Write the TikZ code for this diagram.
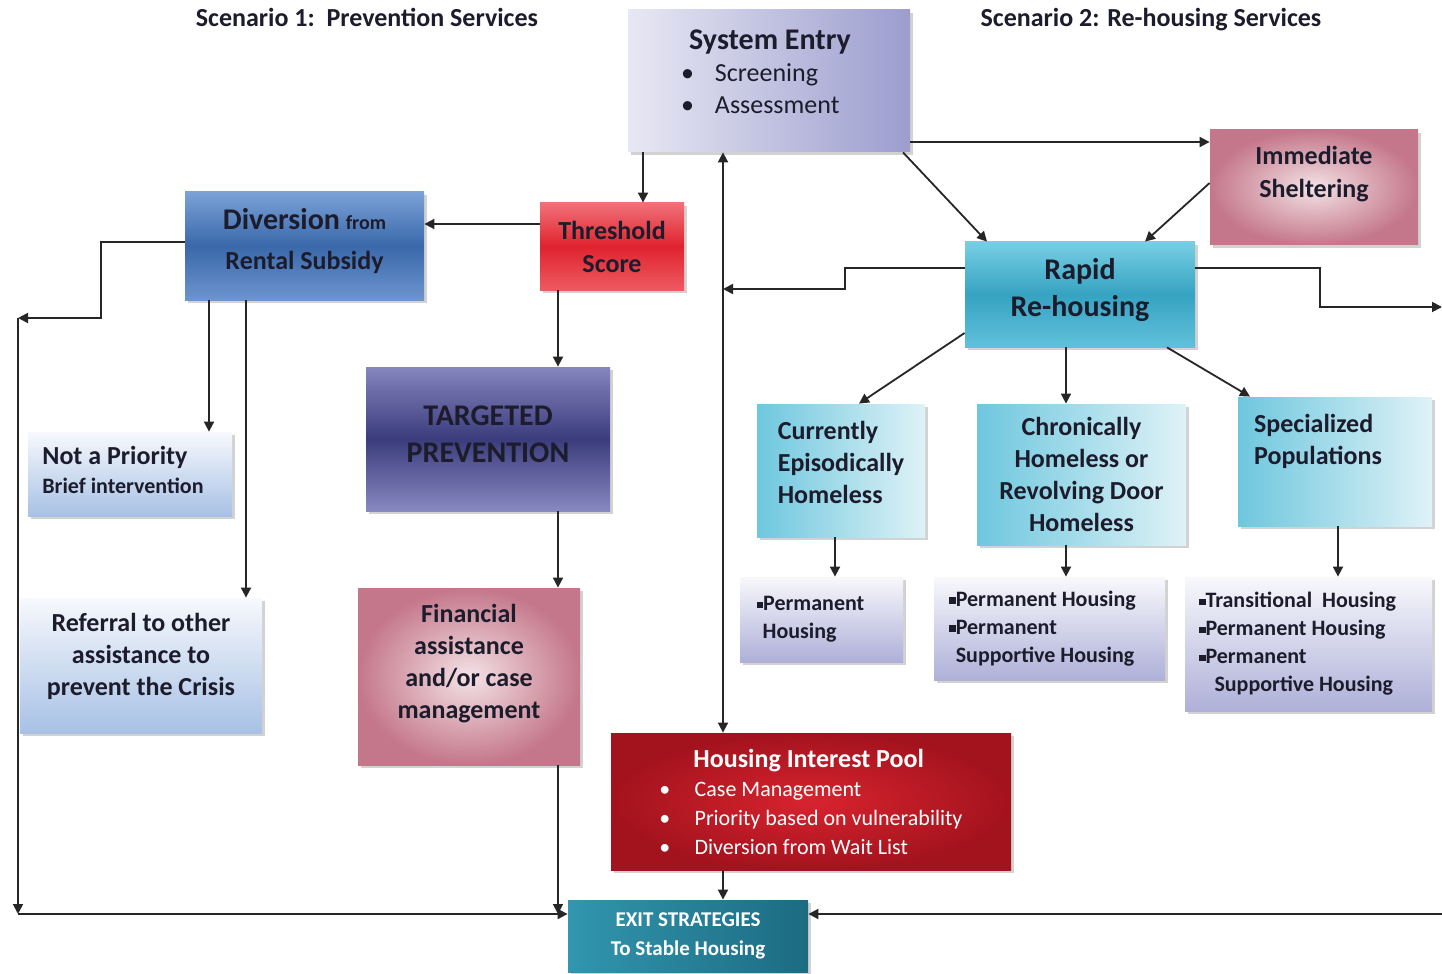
\documentclass[tikz,border=0pt]{standalone}
\usepackage{fontspec}
\setmainfont{Carlito}
\usetikzlibrary{arrows.meta,shadows}
\definecolor{txt}{HTML}{1C1C2C}
\definecolor{sysL}{HTML}{E8E8F4}
\definecolor{sysR}{HTML}{9C9DCE}
\definecolor{divT}{HTML}{7BA2D8}
\definecolor{divM}{HTML}{3A68AA}
\definecolor{divB}{HTML}{6D95CF}
\definecolor{thrT}{HTML}{F07178}
\definecolor{thrM}{HTML}{E0232E}
\definecolor{thrB}{HTML}{EE5A62}
\definecolor{tgtT}{HTML}{8586BE}
\definecolor{tgtM}{HTML}{3B3C7C}
\definecolor{tgtB}{HTML}{8889C0}
\definecolor{lbT}{HTML}{F7F9FD}
\definecolor{lbB}{HTML}{A7C1E5}
\definecolor{pinkIn}{HTML}{F4E2E6}
\definecolor{pinkOut}{HTML}{C4778A}
\definecolor{poolIn}{HTML}{D8232F}
\definecolor{poolOut}{HTML}{A3131D}
\definecolor{exitL}{HTML}{3196AE}
\definecolor{exitR}{HTML}{1C6B82}
\definecolor{rapT}{HTML}{78CFE4}
\definecolor{rapM}{HTML}{36A3C2}
\definecolor{rapB}{HTML}{60C1DB}
\definecolor{cyL}{HTML}{6EC7DE}
\definecolor{cyR}{HTML}{DFF2F7}
\definecolor{phT}{HTML}{F8F8FC}
\definecolor{phB}{HTML}{AEB0D8}
\newcommand{\lift}[1]{\rule[-#1]{0pt}{#1}}
\newcommand{\sqb}{\rule[0.25ex]{0.3em}{0.3em}}
\tikzset{
  box/.style={rectangle, inner sep=2pt, align=center, text=txt,
    font=\fontsize{13}{16}\selectfont\bfseries,
    drop shadow={shadow xshift=1.5pt, shadow yshift=-1.5pt, opacity=0.35}},
  entrybox/.style={box, left color=sysL, right color=sysR},
  divbox/.style={box, top color=divT, bottom color=divB, middle color=divM},
  scorebox/.style={box, top color=thrT, bottom color=thrB, middle color=thrM},
  targetbox/.style={box, top color=tgtT, bottom color=tgtB, middle color=tgtM},
  lightbox/.style={box, top color=lbT, bottom color=lbB},
  pinkbox/.style={box, inner color=pinkIn, outer color=pinkOut},
  poolbox/.style={box, inner color=poolIn, outer color=poolOut, text=white},
  exitbox/.style={box, left color=exitL, right color=exitR, text=white},
  rapidbox/.style={box, top color=rapT, bottom color=rapB, middle color=rapM},
  groupbox/.style={box, left color=cyL, right color=cyR},
  housebox/.style={box, top color=phT, bottom color=phB, align=left,
    font=\fontsize{11}{14}\selectfont\bfseries},
  title/.style={text=txt, font=\fontsize{13}{16}\selectfont\bfseries, anchor=base},
  arr/.style={-{Triangle[length=5pt,width=5pt]}, line width=0.9pt, draw=black!85},
  arrboth/.style={{Triangle[length=5pt,width=5pt]}-{Triangle[length=5pt,width=5pt]}, line width=0.9pt, draw=black!85}
}

\begin{document}
\begin{tikzpicture}[x=0.5pt, y=-0.5pt]
	\useasboundingbox[fill=white] (0,0) rectangle (1442,974);
	\node[title] (sc1) at (367,27) {Scenario 1:\ \ Prevention Services};
	\node[title] (sc2) at (1151,27) {Scenario 2: Re-housing Services};
	% scenario 1 side
	\node[entrybox, minimum width=141pt, minimum height=71pt, align=left] (sys) at (769,81)
		{\hspace*{4pt}{\fontsize{15}{17.5}\selectfont System Entry}\hspace*{3pt}\\
		 \mdseries\textbullet\hspace{0.8em}Screening\\
		 \mdseries\textbullet\hspace{0.8em}Assessment\lift{9pt}};
	\node[divbox, minimum width=119.5pt, minimum height=54pt, font=\fontsize{13}{20}\selectfont\bfseries] (div) at (304.5,246)
		{{\fontsize{15}{20}\selectfont Diversion} {\fontsize{10}{12}\selectfont from}\\Rental Subsidy\lift{7pt}};
	\node[scorebox, minimum width=72pt, minimum height=43.5pt, font=\fontsize{13}{16.5}\selectfont\bfseries] (thr) at (612,246.5) {Threshold\\Score};
	\node[targetbox, minimum width=122pt, minimum height=72pt, font=\fontsize{15}{18.5}\selectfont\bfseries] (tgt) at (488,439) {TARGETED\\PREVENTION\lift{5pt}};
	\node[lightbox, minimum width=102pt, minimum height=42pt, align=left, font=\fontsize{13}{14.5}\selectfont\bfseries] (nap) at (130,474)
		{Not a Priority\\{\fontsize{11}{14.5}\selectfont Brief intervention}\hspace*{7pt}\lift{4pt}};
	\node[lightbox, minimum width=121pt, minimum height=67.5pt] (ref) at (141,665.5) {Referral to other\\assistance to\\prevent the Crisis\lift{11pt}};
	\node[pinkbox, minimum width=111pt, minimum height=88.5pt] (fin) at (469,676.5) {Financial\\assistance\\and/or case\\management\lift{15pt}};
	% shared nodes
	\node[poolbox, minimum width=200pt, minimum height=68.5pt, align=left, font=\fontsize{11}{14.5}\selectfont\bfseries] (pool) at (811,801.5)
		{\hspace*{17pt}{\fontsize{13}{15.5}\selectfont Housing Interest Pool}\\
		 \mdseries\textbullet\hspace{1.1em}Case Management\\
		 \mdseries\textbullet\hspace{1.1em}Priority based on vulnerability\\
		 \mdseries\textbullet\hspace{1.1em}Diversion from Wait List};
	\node[exitbox, minimum width=120pt, minimum height=36pt, font=\fontsize{10.5}{14.5}\selectfont\bfseries] (exit) at (688,936) {EXIT STRATEGIES\\To Stable Housing};
	% scenario 2 side
	\node[pinkbox, minimum width=104pt, minimum height=57.5pt, font=\fontsize{13}{16.5}\selectfont\bfseries] (imm) at (1314,187.5) {Immediate\\Sheltering\lift{16pt}};
	\node[rapidbox, minimum width=115pt, minimum height=52.5pt, font=\fontsize{15}{18.5}\selectfont\bfseries] (rap) at (1080,294.5) {Rapid\\Re-housing\lift{7pt}};
	\node[groupbox, minimum width=84pt, minimum height=66.5pt, align=left] (cur) at (841,470.5) {Currently\\Episodically\hspace*{6pt}\\Homeless\lift{8pt}};
	\node[groupbox, minimum width=104.5pt, minimum height=70.5pt] (chr) at (1081.5,474.5) {Chronically\\Homeless or\\Revolving Door\\Homeless};
	\node[groupbox, minimum width=97pt, minimum height=64.5pt, align=left] (spe) at (1335,461.5) {Specialized\\Populations\hspace*{17pt}\lift{22pt}};
	\node[housebox, minimum width=81.5pt, minimum height=42.5pt] (ph1) at (821.5,619.5) {\sqb Permanent\hspace*{11pt}\\\hspace*{3pt}Housing};
	\node[housebox, minimum width=115.5pt, minimum height=51.5pt] (ph2) at (1049.5,628.5)
		{\sqb Permanent Housing\hspace*{7pt}\\\sqb Permanent\\\phantom{\sqb}Supportive Housing};
	\node[housebox, minimum width=123.5pt, minimum height=67pt] (ph3) at (1308.5,644)
		{\sqb Transitional\ \ Housing\hspace*{11pt}\\\sqb Permanent Housing\\\sqb Permanent\\\phantom{\sqb}\hspace*{4.5pt}Supportive Housing};
	% free ends of the long lines
	\coordinate (lup) at (18,318);
	\coordinate (lft) at (18,914);
	\coordinate (rgt) at (1442,914);
	\coordinate (rout) at (1442,307);
	% prevention connectors
	\draw[arr] (643,0 |- sys.south) -- (643,0 |- thr.north);
	\draw[arr] (thr.west |- 0,224) -- (div.east |- 0,224);
	\draw[arr] (558,0 |- thr.south) -- (558,0 |- tgt.north);
	\draw[arr] (558,0 |- tgt.south) -- (558,0 |- fin.north);
	\draw[arr] (558,0 |- fin.south) -- (558,0 |- lft);
	\draw[arr] (div.west |- 0,242) -| (101,318) -- (lup);
	\draw[arr] (lup) -- (lft);
	\draw[arr] (lft) -- (exit.west |- lft);
	\draw[arr] (209,0 |- div.south) -- (209,0 |- nap.north);
	\draw[arr] (246,0 |- div.south) -- (246,0 |- ref.north);
	% middle line
	\draw[arrboth] (723,0 |- sys.south) -- (723,0 |- pool.north);
	\draw[arr] (rap.west |- 0,268) -- (845,268) -- (845,289) -- (723,289);
	\draw[arr] (723,0 |- pool.south) -- (723,0 |- exit.north);
	% re-housing connectors
	\draw[arr] (rgt) -- (exit.east |- rgt);
	\draw[arr] (rap.east |- 0,268) -- (1320,268) -- (1320,307) -- (rout);
	\draw[arr] (sys.east |- 0,142) -- (imm.west |- 0,142);
	\draw[arr] (903,0 |- sys.south) -- (987,0 |- rap.north);
	\draw[arr] (imm.west |- 0,183) -- (1145,0 |- rap.north);
	\draw[arr] (rap.west |- 0,333) -- (859,0 |- cur.north);
	\draw[arr] (1066,0 |- rap.south) -- (1066,0 |- chr.north);
	\draw[arr] (1167,0 |- rap.south) -- (1250,0 |- spe.north);
	\draw[arr] (835,0 |- cur.south) -- (835,0 |- ph1.north);
	\draw[arr] (1066,0 |- chr.south) -- (1066,0 |- ph2.north);
	\draw[arr] (1338,0 |- spe.south) -- (1338,0 |- ph3.north);
\end{tikzpicture}
\end{document}
